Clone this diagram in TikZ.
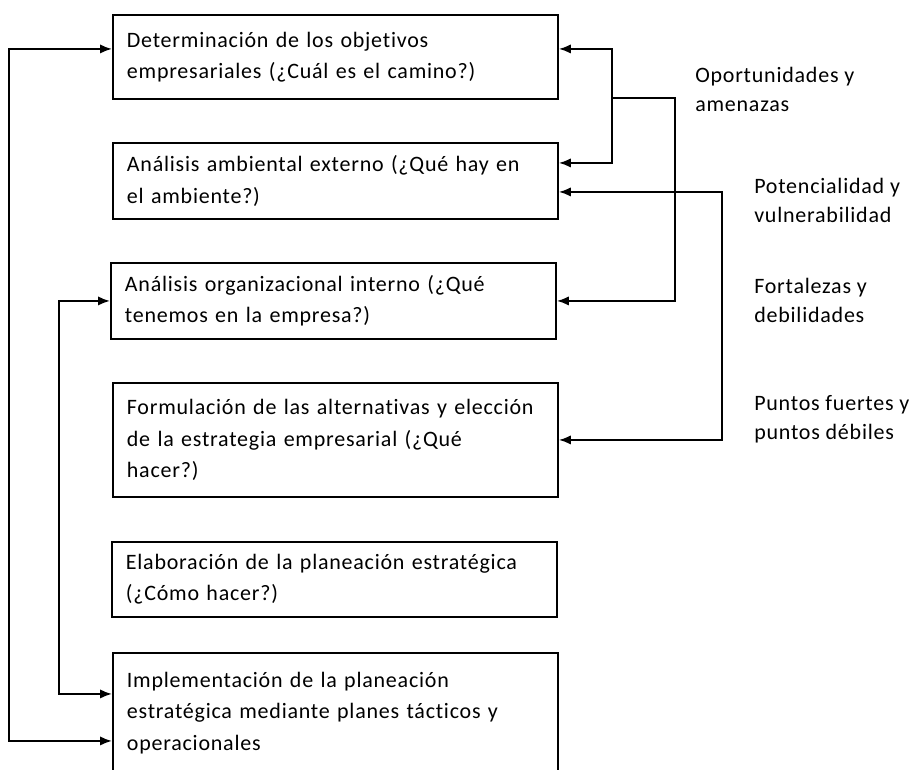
\documentclass[tikz,border=0pt]{standalone}
\usepackage{fontspec}
\setmainfont{Carlito}[LetterSpace=3.5, Ligatures=CommonOff]
\usetikzlibrary{arrows.meta}

\begin{document}
\begin{tikzpicture}[
        x=0.75pt, y=-0.75pt,
        font={\fontsize{16.5pt}{23.6pt}\selectfont},
        flow/.style={{Latex[length=9pt,width=7pt]}-{Latex[length=9pt,width=7pt]},
            line width=1.4pt},
        into/.style={-{Latex[length=9pt,width=7pt]}, line width=1.4pt},
        stage/.style={draw, line width=1.4pt, anchor=north west,
            minimum width=333.75pt, text width=312.75pt, inner xsep=10.5pt,
            inner ysep=0pt, align=left},
        factor/.style={anchor=north west, inner sep=0pt, align=left,
            font={\fontsize{16.5pt}{21.75pt}\selectfont}}
    ]
        \useasboundingbox (0,0) rectangle (916,769);
        \clip (0,0) rectangle (916,769);

        % Stages of the strategic process.
        \node[stage, minimum height=63pt] (obj) at (112,14)
            {Determinación de los objetivos\\empresariales (¿Cuál es el camino?)};
        \node[stage, minimum height=57pt] (ext) at (112,142)
            {Análisis ambiental externo (¿Qué hay en\\el ambiente?)};
        \node[stage, minimum height=57pt] (int) at (110,262)
            {Análisis organizacional interno (¿Qué\\tenemos en la empresa?)};
        \node[stage, minimum height=85.5pt] (form) at (112,382)
            {Formulación de las alternativas y elección\\de la estrategia empresarial (¿Qué\\hacer?)};
        \node[stage, minimum height=56.25pt] (plan) at (111,541)
            {Elaboración de la planeación estratégica\\(¿Cómo hacer?)};
        \node[stage, minimum height=90pt] (impl) at (112,652)
            {Implementación de la planeación\\estratégica mediante planes tácticos y\\operacionales};

        % Factors on the right.
        \node[factor] (opp) at (695,67) {Oportunidades y\\amenazas};
        \node[factor] (pot) at (754,178) {Potencialidad y\\vulnerabilidad};
        \node[factor] (fort) at (754,278) {Fortalezas y\\debilidades};
        \node[factor] (pts) at (754,395) {Puntos fuertes y\\puntos débiles};

        % Feedback loops on the left.
        \coordinate (outer) at (9,400);
        \coordinate (inner) at (59,500);
        \draw[flow] ([yshift=6pt]obj.west) -| (outer) |- ([yshift=-21pt]impl.west);
        \draw[flow] (int.west) -| (inner) |- ([yshift=14.25pt]impl.west);

        % Links on the right.
        \coordinate (fork) at (612,98);
        \coordinate (drop) at (675,200);
        \coordinate (rise) at (722,300);
        \draw[flow] ([yshift=6pt]obj.east) -| (fork) |- ([yshift=13.5pt]ext.east);
        \draw[into] (fork) -| (drop) |- (int.east);
        \draw[flow] ([yshift=-8.25pt]ext.east) -| (rise) |- (form.east);
    \end{tikzpicture}
\end{document}
